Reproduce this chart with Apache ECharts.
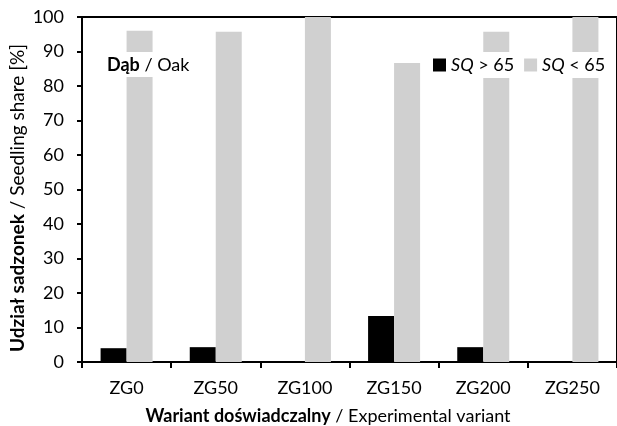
<!DOCTYPE html>
<html>
<head>
<meta charset="utf-8">
<script src="https://cdn.jsdelivr.net/npm/echarts@6/dist/echarts.min.js"></script>
<style>
html,body{margin:0;padding:0;background:#fff;}
#chart{width:617px;height:426px;}
</style>
</head>
<body>
<div id="chart"></div>
<script>
var categories = ['ZG0', 'ZG50', 'ZG100', 'ZG150', 'ZG200', 'ZG250'];
var sqAbove65 = [4.0, 4.3, 0, 13.3, 4.3, 0];
var sqBelow65 = [96.0, 95.7, 100, 86.7, 95.7, 100];
var seriesNames = ['SQ > 65', 'SQ < 65'];
var yMin = 0, yMax = 100, yStep = 10;

var FONT = 'Lato';
var FS = 18;
var chart = echarts.init(document.getElementById('chart'), null, {renderer: 'canvas'});
chart.setOption({
  animation: false,
  backgroundColor: '#fff',
  grid: {
    left: 82, top: 17, width: 539, height: 345,
    show: true, borderColor: '#000', borderWidth: 2, backgroundColor: 'transparent'
  },
  legend: {
    data: seriesNames,
    left: 428, top: 52,
    padding: [4, 5, 4, 5],
    backgroundColor: '#fff',
    icon: 'rect',
    itemWidth: 13, itemHeight: 13,
    itemGap: 10,
    formatter: function (n) { return '{i|SQ}' + n.slice(2); },
    textStyle: {
      fontFamily: FONT, fontSize: FS, color: '#000',
      rich: { i: { fontStyle: 'italic', fontFamily: FONT, fontSize: FS, color: '#000' } }
    }
  },
  xAxis: {
    type: 'category',
    data: categories,
    axisLine: { lineStyle: { color: '#000', width: 2 } },
    axisTick: { show: true, length: 6, lineStyle: { color: '#000', width: 2 } },
    axisLabel: { fontFamily: FONT, fontSize: FS, color: '#000', margin: 17 },
    splitLine: { show: false }
  },
  yAxis: {
    type: 'value',
    min: yMin, max: yMax, interval: yStep,
    axisLine: { show: true, lineStyle: { color: '#000', width: 2 } },
    axisTick: { show: true, length: 5, lineStyle: { color: '#000', width: 2 } },
    axisLabel: { fontFamily: FONT, fontSize: FS, color: '#000', margin: 18 },
    splitLine: { show: false }
  },
  series: [
    { name: seriesNames[0], type: 'bar', data: sqAbove65, barWidth: 26, barGap: '0%',
      itemStyle: { color: '#000' } },
    { name: seriesNames[1], type: 'bar', data: sqBelow65, barWidth: 26, barGap: '0%',
      itemStyle: { color: '#d0d0d0' } }
  ],
  graphic: [
    { type: 'text', z: 100, x: 103, y: 52,
      style: {
        text: '{b|Dąb} / Oak',
        fontFamily: FONT, fontSize: FS, fill: '#000',
        backgroundColor: '#fff', padding: [4, 4, 3, 4],
        rich: { b: { fontWeight: 'bold', fontFamily: FONT, fontSize: FS } }
      } },
    { type: 'text', z: 100, x: 328, y: 416,
      style: {
        text: '{b|Wariant doświadczalny} / Experimental variant',
        fontFamily: FONT, fontSize: FS, fill: '#000', align: 'center', verticalAlign: 'middle',
        rich: { b: { fontWeight: 'bold', fontFamily: FONT, fontSize: FS } }
      } },
    { type: 'text', z: 100, x: 18, y: 198, rotation: Math.PI / 2,
      style: {
        text: '{b|Udział sadzonek} / Seedling share [%]',
        fontFamily: FONT, fontSize: 19, fill: '#000', align: 'center', verticalAlign: 'middle',
        rich: { b: { fontWeight: 'bold', fontFamily: FONT, fontSize: 19 } }
      } }
  ]
});
</script>
</body>
</html>
